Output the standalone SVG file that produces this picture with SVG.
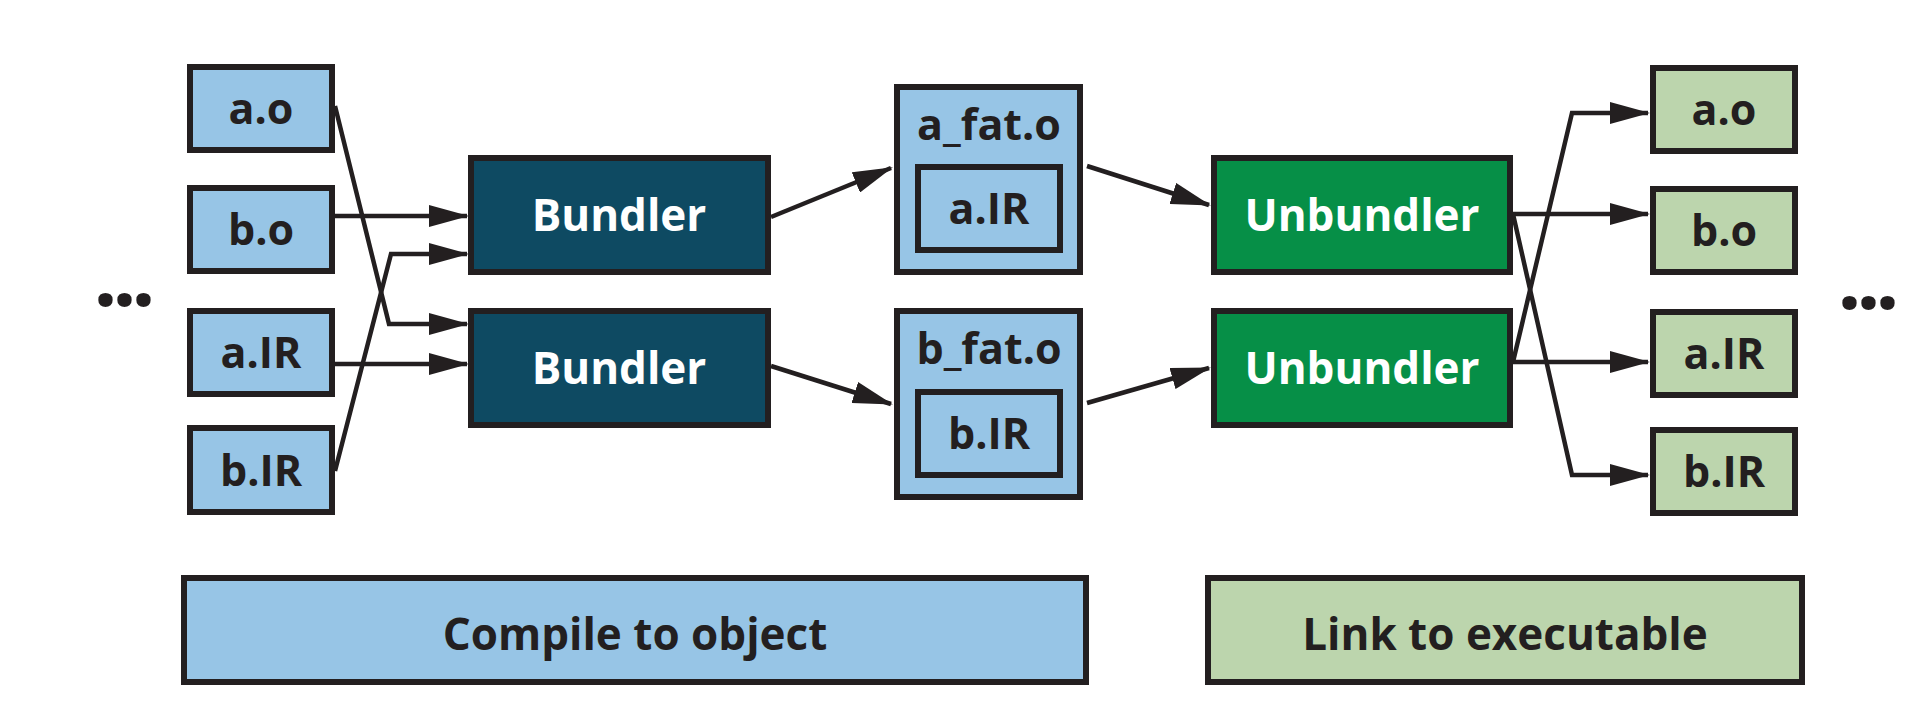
<svg xmlns="http://www.w3.org/2000/svg" width="1932" height="727" viewBox="0 0 1932 727">
<style>
  .box{stroke:#231f20;stroke-width:6}
  .lb{fill:#97c5e6}
  .dk{fill:#0e4a62}
  .gr{fill:#068f47}
  .lg{fill:#bcd5ad}
  text{font-family:"Open Sans","Noto Sans",sans-serif;font-weight:bold;text-anchor:middle}
  .t{font-size:43px;fill:#231f20}
  .tb{font-size:44px;fill:#231f20}
  .tw{font-size:44px;fill:#ffffff}
  .dots{font-size:84px;fill:#231f20;letter-spacing:-5px}
  .c{fill:none;stroke:#231f20;stroke-width:4.5;marker-end:url(#ah)}
</style>
<defs>
  <marker id="ah" markerUnits="userSpaceOnUse" markerWidth="40" markerHeight="22" refX="38" refY="11" orient="auto">
    <path d="M0,0 L40,11 L0,22 z" fill="#231f20"/>
  </marker>
</defs>
<rect width="1932" height="727" fill="#ffffff"/>
<g id="connectors">
  <polyline class="c" points="335,106 389,324 467,324"/>
  <line class="c" x1="335" y1="216" x2="467" y2="216"/>
  <line class="c" x1="335" y1="364" x2="467" y2="364"/>
  <polyline class="c" points="335,471 391,254 467,254"/>
  <line class="c" x1="771" y1="217" x2="891" y2="168"/>
  <line class="c" x1="771" y1="366" x2="891" y2="404"/>
  <line class="c" x1="1087" y1="166" x2="1209" y2="205"/>
  <line class="c" x1="1087" y1="403" x2="1209" y2="368"/>
  <line class="c" x1="1513" y1="214" x2="1648" y2="214"/>
  <polyline class="c" points="1513,214 1572,475 1648,475"/>
  <polyline class="c" points="1513,362 1572,113 1648,113"/>
  <line class="c" x1="1513" y1="362" x2="1648" y2="362"/>
</g>
<g id="in-a-o"><rect class="box lb" x="190" y="67" width="142" height="83"/><text class="t" x="261" y="124">a.o</text></g>
<g id="in-b-o"><rect class="box lb" x="190" y="188" width="142" height="83"/><text class="t" x="261" y="245">b.o</text></g>
<g id="in-a-ir"><rect class="box lb" x="190" y="311" width="142" height="83"/><text class="t" x="261" y="368">a.IR</text></g>
<g id="in-b-ir"><rect class="box lb" x="190" y="428" width="142" height="84"/><text class="t" x="261" y="486">b.IR</text></g>
<g id="dots-left"><text class="dots" x="122" y="306">...</text></g>
<g id="bundler1"><rect class="box dk" x="471" y="158" width="297" height="114"/><text class="tw" x="619" y="231">Bundler</text></g>
<g id="bundler2"><rect class="box dk" x="471" y="311" width="297" height="114"/><text class="tw" x="619" y="384">Bundler</text></g>
<g id="a-fat-o"><rect class="box lb" x="897" y="87" width="183" height="185"/><text class="t" x="989" y="140">a_fat.o</text>
  <g id="a-fat-a-ir"><rect class="box lb" x="918" y="167" width="142" height="83"/><text class="t" x="989" y="224">a.IR</text></g></g>
<g id="b-fat-o"><rect class="box lb" x="897" y="311" width="183" height="186"/><text class="t" x="989" y="364">b_fat.o</text>
  <g id="b-fat-b-ir"><rect class="box lb" x="918" y="392" width="142" height="83"/><text class="t" x="989" y="449">b.IR</text></g></g>
<g id="unbundler1"><rect class="box gr" x="1214" y="158" width="296" height="114"/><text class="tw" x="1362" y="231">Unbundler</text></g>
<g id="unbundler2"><rect class="box gr" x="1214" y="311" width="296" height="114"/><text class="tw" x="1362" y="384">Unbundler</text></g>
<g id="out-a-o"><rect class="box lg" x="1653" y="68" width="142" height="83"/><text class="t" x="1724" y="125">a.o</text></g>
<g id="out-b-o"><rect class="box lg" x="1653" y="189" width="142" height="83"/><text class="t" x="1724" y="246">b.o</text></g>
<g id="out-a-ir"><rect class="box lg" x="1653" y="312" width="142" height="83"/><text class="t" x="1724" y="369">a.IR</text></g>
<g id="out-b-ir"><rect class="box lg" x="1653" y="430" width="142" height="83"/><text class="t" x="1724" y="487">b.IR</text></g>
<g id="dots-right"><text class="dots" x="1866" y="309">...</text></g>
<g id="compile"><rect class="box lb" x="184" y="578" width="902" height="104"/><text class="tb" x="635" y="650">Compile to object</text></g>
<g id="link"><rect class="box lg" x="1208" y="578" width="594" height="104"/><text class="tb" x="1505" y="650">Link to executable</text></g>
</svg>
